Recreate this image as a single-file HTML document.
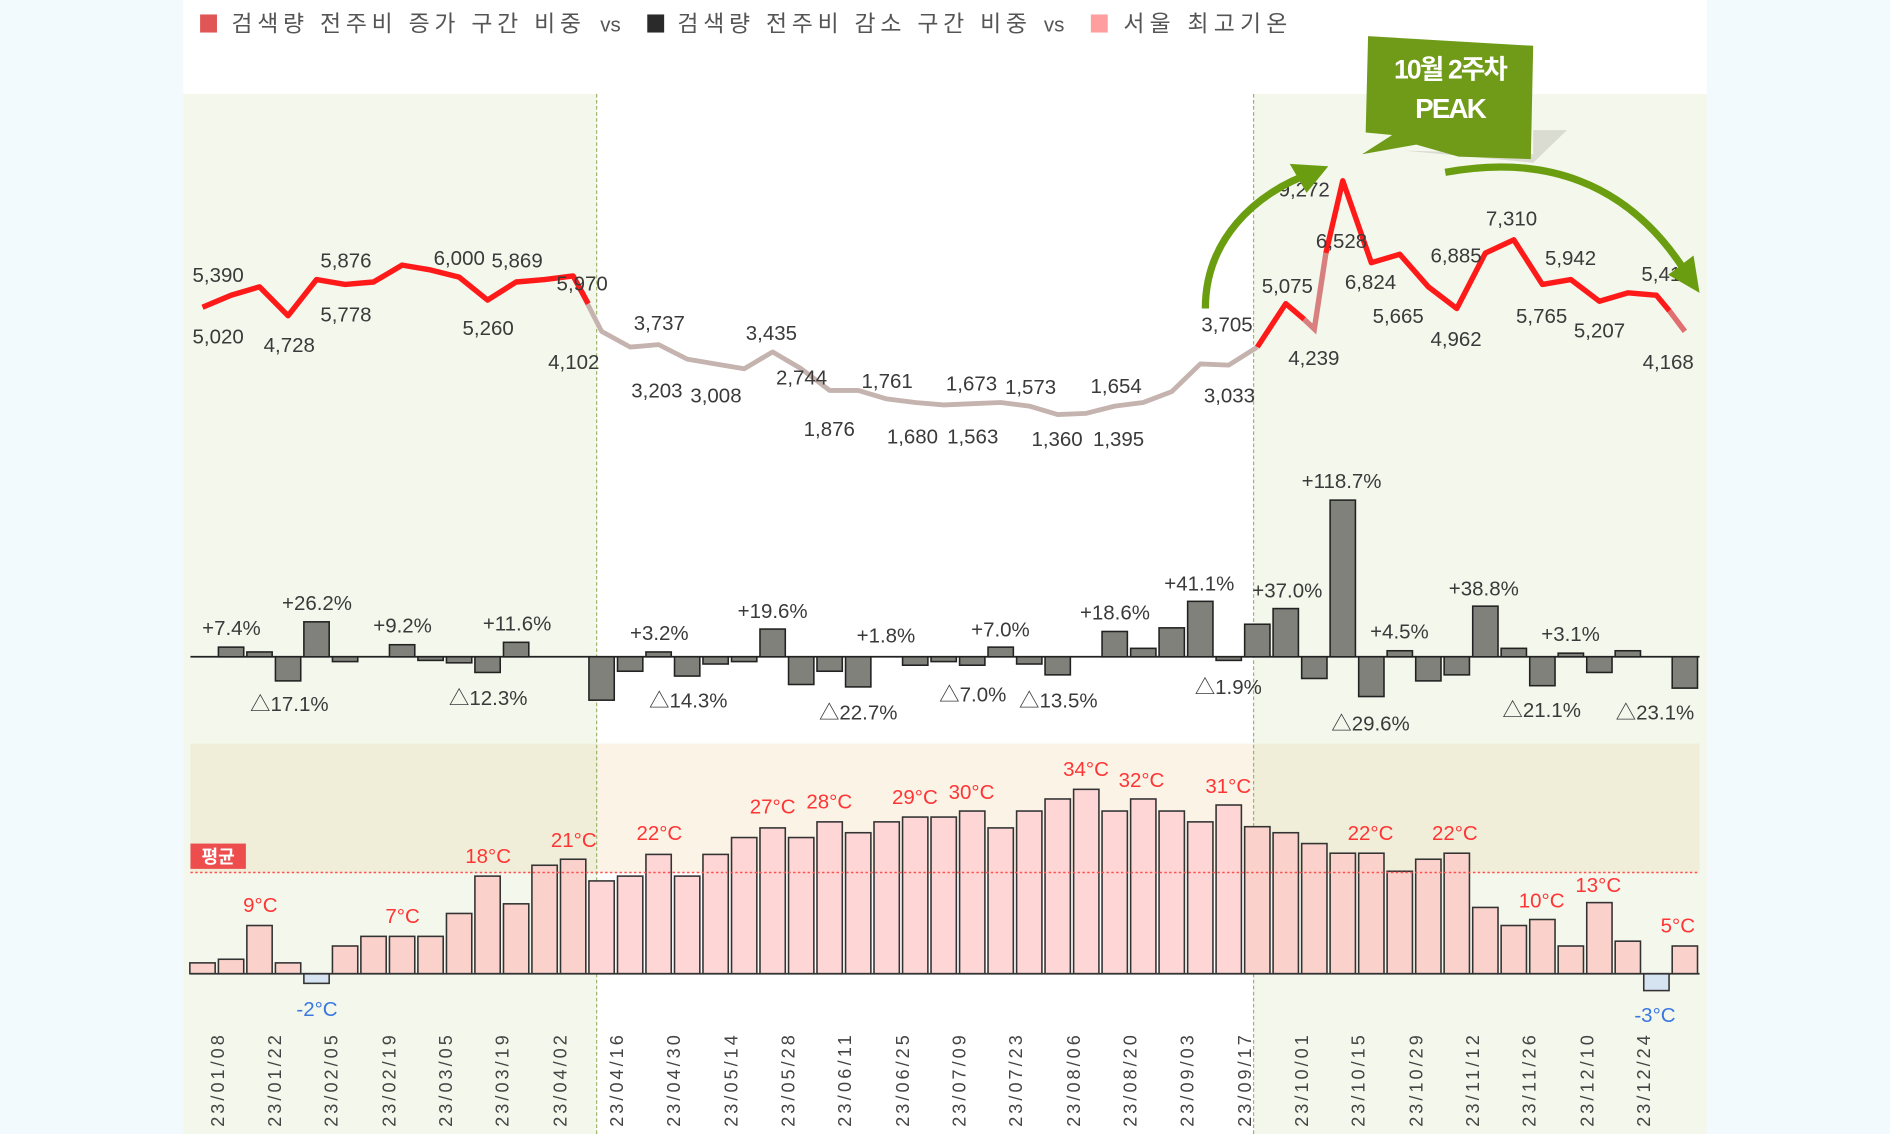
<!DOCTYPE html>
<html><head><meta charset="utf-8"><style>
html,body{margin:0;padding:0;background:#f3fafd;}
svg{display:block;font-family:"Liberation Sans","Noto Sans CJK KR",sans-serif;}
.v{font-size:17px;fill:#3a3a3a;text-anchor:middle;}
.p{font-size:17px;fill:#3a3a3a;text-anchor:middle;}
.t{font-size:17px;fill:#ff3535;text-anchor:middle;}
.tb{font-size:17px;fill:#3a78e0;text-anchor:middle;}
.x{font-size:15px;fill:#444;}
.bb rect{fill:#80817a;stroke:#222;stroke-width:1.3;}
.tp rect{fill:#fad2cb;stroke:#333;stroke-width:1.3;}
</style></head><body>
<svg width="1890" height="1134" viewBox="0 0 1568 941" preserveAspectRatio="none" xmlns="http://www.w3.org/2000/svg">
<rect x="0" y="0" width="1568" height="941" fill="#f3fafd"/>
<rect x="152" y="0" width="1264" height="941" fill="#ffffff"/>
<rect x="152" y="78" width="343" height="863" fill="#f4f7ec"/>
<rect x="1040" y="78" width="376" height="863" fill="#f4f7ec"/>
<rect x="158" y="617" width="337" height="107" fill="#f0eed8"/>
<rect x="495" y="617" width="545" height="107" fill="#faf3e6"/>
<rect x="1040" y="617" width="370" height="107" fill="#f0eed8"/>
<line x1="495" y1="78" x2="495" y2="941" stroke="#9bb56b" stroke-width="1" stroke-dasharray="3,2"/>
<line x1="1040" y1="78" x2="1040" y2="941" stroke="#9bb56b" stroke-width="1" stroke-dasharray="3,2"/>

<rect x="166" y="12" width="14" height="15" fill="#e05555"/>
<text x="192" y="26" font-size="19" fill="#555" textLength="290" lengthAdjust="spacing">검색량 전주비 증가 구간 비중</text>
<text x="498" y="26" font-size="17" fill="#555">vs</text>
<rect x="537" y="12" width="14" height="15" fill="#2a2a2a"/>
<text x="562" y="26" font-size="19" fill="#555" textLength="290" lengthAdjust="spacing">검색량 전주비 감소 구간 비중</text>
<text x="866" y="26" font-size="17" fill="#555">vs</text>
<rect x="905" y="12" width="14" height="15" fill="#ff9e9e"/>
<text x="932" y="26" font-size="19" fill="#555" textLength="136" lengthAdjust="spacing">서울 최고기온</text>

<polyline fill="none" stroke="#c4b3ae" stroke-width="4" stroke-linejoin="round" points="475.5,229 499.1,275 522.8,288 546.4,286 570.1,298 593.7,302 617.4,306 641,292 664.7,306 688.3,324 712,324 735.6,331 759.3,334 782.9,336 806.6,335 830.2,334 853.9,337 877.5,344 901.2,343 924.8,337 948.5,334 972.1,325 995.8,302 1019.4,303 1043.1,288"/>
<polyline fill="none" stroke="#ff1a1a" stroke-width="4.5" stroke-linejoin="round" points="168,255 191.7,245 215.3,238 239,262 262.6,232 286.3,236 309.9,234 333.6,220 357.2,224 380.9,230 404.5,249 428.2,234 451.8,232 475.5,229 488,252"/>
<polyline fill="none" stroke="#ff1a1a" stroke-width="4.5" stroke-linejoin="round" points="1043.1,288 1066.7,252 1082,265"/>
<polyline fill="none" stroke="#d88080" stroke-width="4.5" points="1082,265 1090.4,273 1100,210"/>
<polyline fill="none" stroke="#ff1a1a" stroke-width="4.5" stroke-linejoin="round" points="1100,210 1114,150 1137.7,218 1161.3,211 1185,238 1208.6,256 1232.3,210 1255.9,199 1279.6,236 1303.2,232 1326.9,250 1350.5,243 1374.2,245 1385,258"/>
<polyline fill="none" stroke="#e07070" stroke-width="4.5" points="1385,258 1397.8,275"/>

<g class="v">
<text x="181" y="234">5,390</text><text x="181" y="285">5,020</text><text x="240" y="292">4,728</text>
<text x="287" y="222">5,876</text><text x="287" y="267">5,778</text><text x="381" y="220">6,000</text>
<text x="429" y="222">5,869</text><text x="405" y="278">5,260</text><text x="483" y="241">5,970</text>
<text x="476" y="306">4,102</text><text x="547" y="274">3,737</text><text x="545" y="330">3,203</text>
<text x="594" y="334">3,008</text><text x="640" y="282">3,435</text><text x="665" y="319">2,744</text>
<text x="688" y="362">1,876</text><text x="736" y="322">1,761</text><text x="757" y="368">1,680</text>
<text x="807" y="368">1,563</text><text x="806" y="324">1,673</text><text x="855" y="327">1,573</text>
<text x="877" y="370">1,360</text><text x="928" y="370">1,395</text><text x="926" y="326">1,654</text>
<text x="1018" y="275">3,705</text><text x="1020" y="334">3,033</text><text x="1068" y="243">5,075</text>
<text x="1090" y="303">4,239</text><text x="1082" y="163">9,272</text><text x="1113" y="206">6,528</text>
<text x="1137" y="240">6,824</text><text x="1160" y="268">5,665</text><text x="1208" y="218">6,885</text>
<text x="1208" y="287">4,962</text><text x="1254" y="187">7,310</text><text x="1303" y="220">5,942</text>
<text x="1279" y="268">5,765</text><text x="1327" y="280">5,207</text><text x="1383" y="233">5,412</text>
<text x="1384" y="306">4,168</text>
</g>

<path d="M1000,256 C1000,200 1040,160 1090,143" fill="none" stroke="#6a9e10" stroke-width="6"/>
<polygon points="1102,138 1070,136 1084,160" fill="#6a9e10"/>
<path d="M1199,143 C1280,128 1350,150 1398,225" fill="none" stroke="#6a9e10" stroke-width="6"/>
<polygon points="1410,243 1384,228 1405,212" fill="#6a9e10"/>
<polygon points="1165,125 1272,128 1272,108 1300,108 1272,135" fill="#c8c8c0" opacity="0.6"/>
<polygon points="1135,30 1272,38 1270,132 1210,130 1175,120 1130,128 1155,112 1133,110" fill="#6f9b18"/>
<text x="1203" y="65" font-size="22" font-weight="bold" fill="#fff" text-anchor="middle" letter-spacing="-1.5">10월 2주차</text>
<text x="1203" y="98" font-size="23" font-weight="bold" fill="#fff" text-anchor="middle" letter-spacing="-1.5">PEAK</text>

<line x1="158" y1="545" x2="1410" y2="545" stroke="#222" stroke-width="1.5"/>
<g class="bb">
<rect x="181.2" y="537" width="21" height="8"/><rect x="204.8" y="541" width="21" height="4"/>
<rect x="228.5" y="545" width="21" height="20"/><rect x="252.1" y="516" width="21" height="29"/>
<rect x="275.8" y="545" width="21" height="4"/><rect x="323.1" y="535" width="21" height="10"/>
<rect x="346.7" y="545" width="21" height="3"/><rect x="370.4" y="545" width="21" height="5"/>
<rect x="394" y="545" width="21" height="13"/><rect x="417.7" y="533" width="21" height="12"/>
<rect x="488.6" y="545" width="21" height="36"/><rect x="512.3" y="545" width="21" height="12"/>
<rect x="535.9" y="541" width="21" height="4"/><rect x="559.6" y="545" width="21" height="16"/>
<rect x="583.2" y="545" width="21" height="6"/><rect x="606.9" y="545" width="21" height="4"/>
<rect x="630.5" y="522" width="21" height="23"/><rect x="654.2" y="545" width="21" height="23"/>
<rect x="677.8" y="545" width="21" height="12"/><rect x="701.5" y="545" width="21" height="25"/>
<rect x="748.8" y="545" width="21" height="7"/><rect x="772.4" y="545" width="21" height="4"/>
<rect x="796.1" y="545" width="21" height="7"/><rect x="819.7" y="537" width="21" height="8"/>
<rect x="843.4" y="545" width="21" height="6"/><rect x="867" y="545" width="21" height="15"/>
<rect x="914.3" y="524" width="21" height="21"/><rect x="938" y="538" width="21" height="7"/>
<rect x="961.6" y="521" width="21" height="24"/><rect x="985.3" y="499" width="21" height="46"/>
<rect x="1008.9" y="545" width="21" height="3"/><rect x="1032.6" y="518" width="21" height="27"/>
<rect x="1056.2" y="505" width="21" height="40"/><rect x="1079.9" y="545" width="21" height="18"/>
<rect x="1103.5" y="415" width="21" height="130"/><rect x="1127.2" y="545" width="21" height="33"/>
<rect x="1150.8" y="540" width="21" height="5"/><rect x="1174.5" y="545" width="21" height="20"/>
<rect x="1198.1" y="545" width="21" height="15"/><rect x="1221.8" y="503" width="21" height="42"/>
<rect x="1245.4" y="538" width="21" height="7"/><rect x="1269.1" y="545" width="21" height="24"/>
<rect x="1292.7" y="542" width="21" height="3"/><rect x="1316.4" y="545" width="21" height="13"/>
<rect x="1340" y="540" width="21" height="5"/><rect x="1387.3" y="545" width="21" height="26"/>
</g>
<g class="p">
<text x="192" y="527">+7.4%</text><text x="263" y="506">+26.2%</text><text x="240" y="590">△17.1%</text>
<text x="334" y="525">+9.2%</text><text x="429" y="523">+11.6%</text><text x="405" y="585">△12.3%</text>
<text x="547" y="531">+3.2%</text><text x="571" y="587">△14.3%</text><text x="641" y="513">+19.6%</text>
<text x="735" y="533">+1.8%</text><text x="712" y="597">△22.7%</text><text x="830" y="528">+7.0%</text>
<text x="807" y="582">△7.0%</text><text x="878" y="587">△13.5%</text><text x="925" y="514">+18.6%</text>
<text x="995" y="490">+41.1%</text><text x="1019" y="576">△1.9%</text><text x="1068" y="496">+37.0%</text>
<text x="1113" y="405">+118.7%</text><text x="1137" y="606">△29.6%</text><text x="1161" y="530">+4.5%</text>
<text x="1231" y="494">+38.8%</text><text x="1279" y="595">△21.1%</text><text x="1303" y="532">+3.1%</text>
<text x="1373" y="597">△23.1%</text>
</g>

<g class="tp">
<rect x="157.5" y="799" width="21" height="9"/><rect x="181.2" y="796" width="21" height="12"/>
<rect x="204.8" y="768" width="21" height="40"/><rect x="228.5" y="799" width="21" height="9"/>
<rect x="252.1" y="808" width="21" height="8" style="fill:#d6e4f2"/><rect x="275.8" y="785" width="21" height="23"/>
<rect x="299.4" y="777" width="21" height="31"/><rect x="323.1" y="777" width="21" height="31"/>
<rect x="346.7" y="777" width="21" height="31"/><rect x="370.4" y="758" width="21" height="50"/>
<rect x="394" y="727" width="21" height="81"/><rect x="417.7" y="750" width="21" height="58"/>
<rect x="441.3" y="718" width="21" height="90"/><rect x="465" y="713" width="21" height="95"/>
<rect x="488.6" y="731" width="21" height="77" style="fill:#ffd6d6"/><rect x="512.3" y="727" width="21" height="81" style="fill:#ffd6d6"/>
<rect x="535.9" y="709" width="21" height="99" style="fill:#ffd6d6"/><rect x="559.6" y="727" width="21" height="81" style="fill:#ffd6d6"/>
<rect x="583.2" y="709" width="21" height="99" style="fill:#ffd6d6"/><rect x="606.9" y="695" width="21" height="113" style="fill:#ffd6d6"/>
<rect x="630.5" y="687" width="21" height="121" style="fill:#ffd6d6"/><rect x="654.2" y="695" width="21" height="113" style="fill:#ffd6d6"/>
<rect x="677.8" y="682" width="21" height="126" style="fill:#ffd6d6"/><rect x="701.5" y="691" width="21" height="117" style="fill:#ffd6d6"/>
<rect x="725.1" y="682" width="21" height="126" style="fill:#ffd6d6"/><rect x="748.8" y="678" width="21" height="130" style="fill:#ffd6d6"/>
<rect x="772.4" y="678" width="21" height="130" style="fill:#ffd6d6"/><rect x="796.1" y="673" width="21" height="135" style="fill:#ffd6d6"/>
<rect x="819.7" y="687" width="21" height="121" style="fill:#ffd6d6"/><rect x="843.4" y="673" width="21" height="135" style="fill:#ffd6d6"/>
<rect x="867" y="663" width="21" height="145" style="fill:#ffd6d6"/><rect x="890.7" y="655" width="21" height="153" style="fill:#ffd6d6"/>
<rect x="914.3" y="673" width="21" height="135" style="fill:#ffd6d6"/><rect x="938" y="663" width="21" height="145" style="fill:#ffd6d6"/>
<rect x="961.6" y="673" width="21" height="135" style="fill:#ffd6d6"/><rect x="985.3" y="682" width="21" height="126" style="fill:#ffd6d6"/>
<rect x="1008.9" y="668" width="21" height="140" style="fill:#ffd6d6"/><rect x="1032.6" y="686" width="21" height="122"/>
<rect x="1056.2" y="691" width="21" height="117"/><rect x="1079.9" y="700" width="21" height="108"/>
<rect x="1103.5" y="708" width="21" height="100"/><rect x="1127.2" y="708" width="21" height="100"/>
<rect x="1150.8" y="723" width="21" height="85"/><rect x="1174.5" y="713" width="21" height="95"/>
<rect x="1198.1" y="708" width="21" height="100"/><rect x="1221.8" y="753" width="21" height="55"/>
<rect x="1245.4" y="768" width="21" height="40"/><rect x="1269.1" y="763" width="21" height="45"/>
<rect x="1292.7" y="785" width="21" height="23"/><rect x="1316.4" y="749" width="21" height="59"/>
<rect x="1340" y="781" width="21" height="27"/><rect x="1363.7" y="808" width="21" height="14" style="fill:#d6e4f2"/>
<rect x="1387.3" y="785" width="21" height="23"/>
</g>
<line x1="158" y1="808" x2="1410" y2="808" stroke="#333" stroke-width="1.5"/>
<line x1="158" y1="724" x2="1410" y2="724" stroke="#ff5050" stroke-width="1.2" stroke-dasharray="2,2"/>
<rect x="158" y="700" width="46" height="21" fill="#ee4d4d"/>
<text x="181" y="716" font-size="15" font-weight="bold" fill="#fff" text-anchor="middle">평균</text>
<g class="t">
<text x="216" y="757">9°C</text><text x="334" y="766">7°C</text><text x="405" y="716">18°C</text>
<text x="476" y="703">21°C</text><text x="547" y="697">22°C</text><text x="641" y="675">27°C</text>
<text x="688" y="671">28°C</text><text x="759" y="667">29°C</text><text x="806" y="663">30°C</text>
<text x="901" y="644">34°C</text><text x="947" y="653">32°C</text><text x="1019" y="658">31°C</text>
<text x="1137" y="697">22°C</text><text x="1207" y="697">22°C</text><text x="1279" y="753">10°C</text>
<text x="1326" y="740">13°C</text><text x="1392" y="774">5°C</text>
</g>
<text class="tb" x="263" y="843">-2°C</text><text class="tb" x="1373" y="848">-3°C</text>

<g class="x">
<text transform="translate(186,935) rotate(-90)" textLength="76" lengthAdjust="spacing">23/01/08</text>
<text transform="translate(233,935) rotate(-90)" textLength="76" lengthAdjust="spacing">23/01/22</text>
<text transform="translate(280,935) rotate(-90)" textLength="76" lengthAdjust="spacing">23/02/05</text>
<text transform="translate(328,935) rotate(-90)" textLength="76" lengthAdjust="spacing">23/02/19</text>
<text transform="translate(375,935) rotate(-90)" textLength="76" lengthAdjust="spacing">23/03/05</text>
<text transform="translate(422,935) rotate(-90)" textLength="76" lengthAdjust="spacing">23/03/19</text>
<text transform="translate(470,935) rotate(-90)" textLength="76" lengthAdjust="spacing">23/04/02</text>
<text transform="translate(517,935) rotate(-90)" textLength="76" lengthAdjust="spacing">23/04/16</text>
<text transform="translate(564,935) rotate(-90)" textLength="76" lengthAdjust="spacing">23/04/30</text>
<text transform="translate(612,935) rotate(-90)" textLength="76" lengthAdjust="spacing">23/05/14</text>
<text transform="translate(659,935) rotate(-90)" textLength="76" lengthAdjust="spacing">23/05/28</text>
<text transform="translate(706,935) rotate(-90)" textLength="76" lengthAdjust="spacing">23/06/11</text>
<text transform="translate(754,935) rotate(-90)" textLength="76" lengthAdjust="spacing">23/06/25</text>
<text transform="translate(801,935) rotate(-90)" textLength="76" lengthAdjust="spacing">23/07/09</text>
<text transform="translate(848,935) rotate(-90)" textLength="76" lengthAdjust="spacing">23/07/23</text>
<text transform="translate(896,935) rotate(-90)" textLength="76" lengthAdjust="spacing">23/08/06</text>
<text transform="translate(943,935) rotate(-90)" textLength="76" lengthAdjust="spacing">23/08/20</text>
<text transform="translate(990,935) rotate(-90)" textLength="76" lengthAdjust="spacing">23/09/03</text>
<text transform="translate(1038,935) rotate(-90)" textLength="76" lengthAdjust="spacing">23/09/17</text>
<text transform="translate(1085,935) rotate(-90)" textLength="76" lengthAdjust="spacing">23/10/01</text>
<text transform="translate(1132,935) rotate(-90)" textLength="76" lengthAdjust="spacing">23/10/15</text>
<text transform="translate(1180,935) rotate(-90)" textLength="76" lengthAdjust="spacing">23/10/29</text>
<text transform="translate(1227,935) rotate(-90)" textLength="76" lengthAdjust="spacing">23/11/12</text>
<text transform="translate(1274,935) rotate(-90)" textLength="76" lengthAdjust="spacing">23/11/26</text>
<text transform="translate(1322,935) rotate(-90)" textLength="76" lengthAdjust="spacing">23/12/10</text>
<text transform="translate(1369,935) rotate(-90)" textLength="76" lengthAdjust="spacing">23/12/24</text>
</g>
</svg>
</body></html>
